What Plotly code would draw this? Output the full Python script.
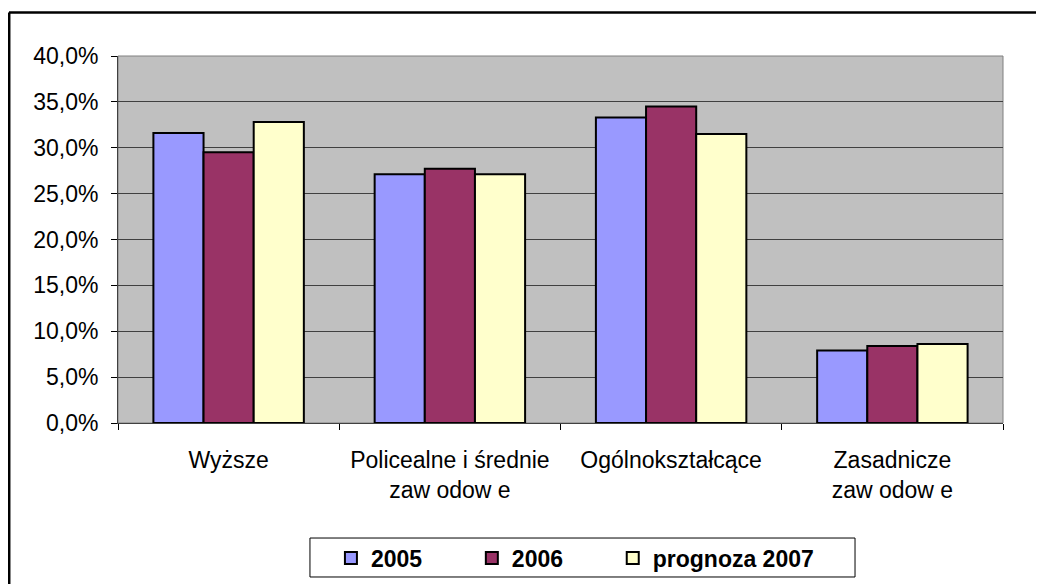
import plotly.graph_objects as go

# ---------------- data ----------------
categories = ["Wyższe", "Policealne i średnie<br>zaw odow e", "Ogólnokształcące", "Zasadnicze<br>zaw odow e"]
series_names = ["2005", "2006", "prognoza 2007"]
v2005 = [0.316, 0.271, 0.333, 0.079]
v2006 = [0.295, 0.277, 0.345, 0.084]
v2007 = [0.328, 0.271, 0.315, 0.086]
colors = ["#9999FF", "#993366", "#FFFFCC"]
y_ticks = [0, 0.05, 0.10, 0.15, 0.20, 0.25, 0.30, 0.35, 0.40]

NB = "\u00a0"
pads = [NB * 7, NB * 7, ""]   # spacing between legend entries

# ---------------- figure ----------------
fig = go.Figure()
for name, vals, col, pad in zip(series_names, [v2005, v2006, v2007], colors, pads):
    fig.add_trace(go.Bar(
        x=categories, y=vals, name="<b>" + name + "</b>" + pad,
        marker=dict(color=col, line=dict(color="black", width=2)),
    ))

# page body has an 8px margin, so the figure is a bit smaller than the window
fig.update_layout(
    width=1036, height=576,
    margin=dict(l=110, r=41, t=48, b=161),
    paper_bgcolor="white",
    plot_bgcolor="#C0C0C0",
    barmode="group", bargap=0.32, bargroupgap=0,
    separators=",.",
    font=dict(family="Liberation Sans, Arial", size=23, color="black"),
    showlegend=True,
    legend=dict(
        orientation="h", x=0.2406, xanchor="left",
        yref="container", y=0.0451, yanchor="middle",
        borderwidth=0, bgcolor="rgba(0,0,0,0)",
        font=dict(size=23, family="Liberation Sans, Arial"),
        itemwidth=30,
    ),
)

fig.update_yaxes(
    range=[0, 0.40], tickvals=y_ticks, tickformat=".1%",
    showgrid=True, gridcolor="#404040", gridwidth=1,
    showline=True, linecolor="#404040", linewidth=1,
    ticks="outside", ticklen=6, tickcolor="black", ticklabelstandoff=8,
    zeroline=False,
)
fig.update_xaxes(
    showline=True, linecolor="#404040", linewidth=1,
    ticks="outside", ticklen=6, tickcolor="black", tickson="boundaries",
    ticklabelstandoff=16,
    showgrid=False,
)

# gray plot-area frame (top/right)
fig.add_shape(type="rect", xref="paper", yref="paper", x0=0, y0=0, x1=1, y1=1,
              line=dict(color="#808080", width=1), layer="below")
# legend box
fig.add_shape(type="rect", xref="paper", yref="paper",
              x0=0.2169, y0=-0.4196, x1=0.8328, y1=-0.3134,
              line=dict(color="black", width=1), fillcolor="white", layer="below")
# outer chart border (only top and left are inside the picture)
fig.add_shape(type="line", xref="paper", yref="paper",
              x0=-0.1232, y0=1.1185, x1=1.3, y1=1.1185,
              line=dict(color="black", width=2.5))
fig.add_shape(type="line", xref="paper", yref="paper",
              x0=-0.1232, y0=-0.7, x1=-0.1232, y1=1.1185,
              line=dict(color="black", width=3))

fig.write_html("out.html")
